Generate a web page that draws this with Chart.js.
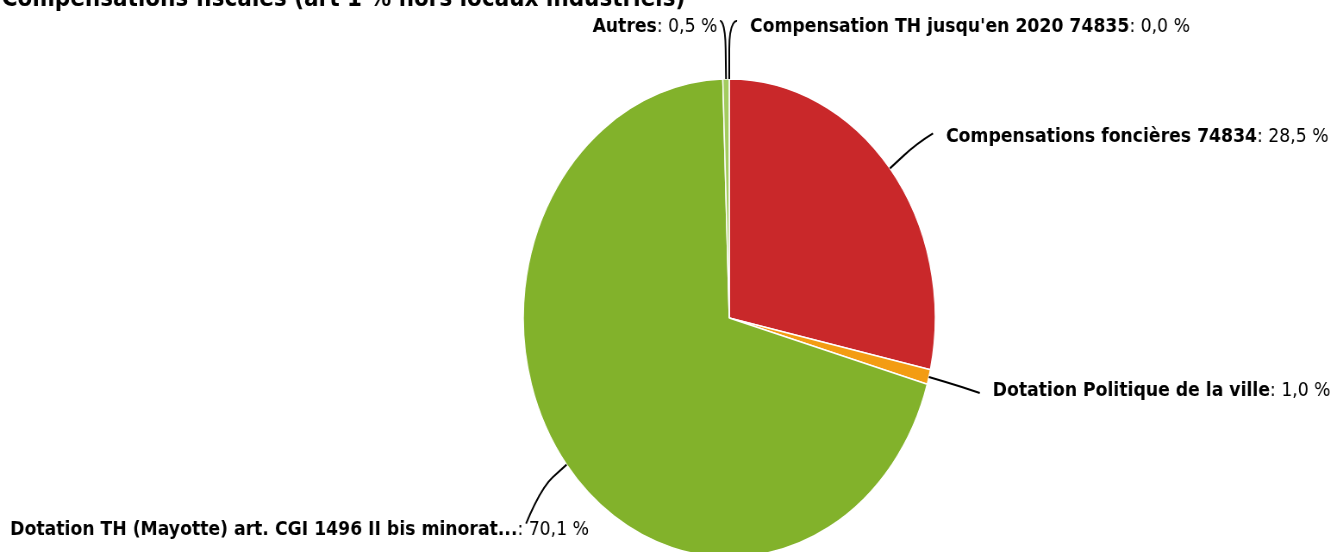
<!DOCTYPE html>
<html>
<head>
<meta charset="utf-8">
<script src="https://cdn.jsdelivr.net/npm/chart.js@4.4.1/dist/chart.umd.min.js"></script>
<style>
  html, body { margin: 0; padding: 0; background: #fff; }
  #cadre { width: 1336px; height: 552px; overflow: hidden; position: relative; }
  /* le graphique d'origine est écrasé horizontalement */
  #interieur { width: 1550px; height: 552px; transform: scaleX(0.862); transform-origin: 0 0; }
</style>
</head>
<body>
<div id="cadre"><div id="interieur"><canvas id="chartCompensations" width="1550" height="552"></canvas></div></div>
<script>
const titre = "Compensations fiscales (art 1 % hors locaux industriels)";

const categories = [
    "Compensation TH jusqu'en 2020 74835",
    "Compensations foncières 74834",
    "Dotation Politique de la ville",
    "Dotation TH (Mayotte) art. CGI 1496 II bis minorat...",
    "Autres",
];
const valeurs = [0.0, 28.5, 1.0, 70.1, 0.5];
const couleurs = ["#2f6db5", "#c9282a", "#f39c12", "#82b22b", "#a3cc5f"];

// position des étiquettes par rapport au bord de chaque part
const placement = [
    { dx: 24, dy: -52, align: "left", cx: -15, cy: -6, k: 30 },
    { dx: 65, dy: -32, align: "left", cx: -15, cy: -3, k: 20 },
    { dx: 74, dy: 14, align: "left", cx: -15, cy: 2, k: 20 },
    { dx: 26, dy: 65, align: "right", cx: -73, cy: -6, k: 20 },
    { dx: -10, dy: -52, align: "right", cx: 3, cy: -6, k: 30 },
];

function formatPct(v) {
    return v.toFixed(1).replace(".", ",") + " %";
}

const etiquettes = {
    id: "etiquettes",
    afterDatasetsDraw(chart) {
        const ctx = chart.ctx;
        const arcs = chart.getDatasetMeta(0).data;
        ctx.save();

        // titre (coupé en haut comme dans l'original)
        ctx.font = "bold 25px 'DejaVu Sans'";
        ctx.fillStyle = "#000";
        ctx.textAlign = "left";
        ctx.textBaseline = "alphabetic";
        ctx.fillText(titre, 2, 6);

        arcs.forEach((arc, i) => {
            const { x, y, startAngle, endAngle, outerRadius } = arc.getProps(
                ["x", "y", "startAngle", "endAngle", "outerRadius"],
                true
            );
            const mid = (startAngle + endAngle) / 2;
            const ux = Math.cos(mid);
            const uy = Math.sin(mid);
            const ax = x + outerRadius * ux;
            const ay = y + outerRadius * uy;
            const p = placement[i];
            const tx = ax + p.dx;
            const ty = ay + p.dy;

            // connecteur
            const lx = tx + p.cx;
            const ly = ty + p.cy;
            const bx = ax + p.k * ux;
            const by = ay + p.k * uy;
            ctx.beginPath();
            ctx.moveTo(lx, ly);
            ctx.bezierCurveTo(lx, ly, 2 * bx - ax, 2 * by - ay, bx, by);
            ctx.lineTo(ax, ay);
            ctx.strokeStyle = "#000";
            ctx.lineWidth = 2;
            ctx.stroke();

            // texte
            const nom = categories[i];
            const val = ": " + formatPct(valeurs[i]);
            ctx.textBaseline = "middle";
            ctx.textAlign = "left";
            ctx.font = "bold 20px 'DejaVu Sans'";
            const w1 = ctx.measureText(nom).width;
            ctx.font = "20px 'DejaVu Sans'";
            const w2 = ctx.measureText(val).width;
            const x0 = p.align === "right" ? tx - w1 - w2 : tx;
            ctx.fillStyle = "#000";
            ctx.font = "bold 20px 'DejaVu Sans'";
            ctx.fillText(nom, x0, ty);
            ctx.font = "20px 'DejaVu Sans'";
            ctx.fillText(val, x0 + w1, ty);
        });
        ctx.restore();
    },
};

const ctx = document.getElementById("chartCompensations");

new Chart(ctx, {
    type: "pie",
    data: {
        labels: categories,
        datasets: [
            {
                data: valeurs,
                backgroundColor: couleurs,
                borderColor: "#ffffff",
                borderWidth: 1.5,
                hoverOffset: 0,
                radius: 239,
                clip: false,
            },
        ],
    },
    options: {
        responsive: false,
        animation: false,
        layout: { padding: { left: 142, top: 84, right: 0, bottom: 0 } },
        plugins: {
            legend: { display: false },
            tooltip: { enabled: false },
            title: { display: false },
        },
    },
    plugins: [etiquettes],
});
</script>
</body>
</html>
